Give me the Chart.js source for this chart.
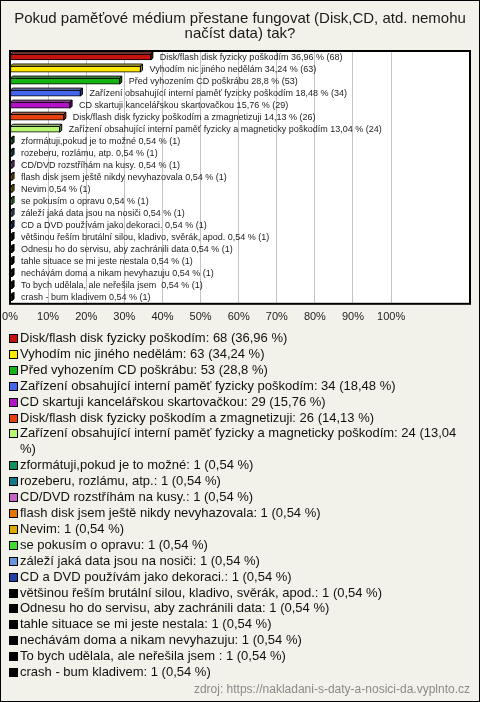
<!DOCTYPE html>
<html>
<head>
<meta charset="utf-8">
<script src="https://cdn.jsdelivr.net/npm/chart.js@4"></script>
<style>
  body { margin: 0; background: #fff; }
  #wrap { position: relative; width: 480px; height: 702px; box-sizing: border-box; border: 1px solid #000; background: #f3f2ea; overflow: hidden; }
  #box { position: absolute; left: 0; top: 0; width: 478px; height: 330px; }
  #legend { position: absolute; left: 8px; top: 329px; width: 462px; font: 13px "Liberation Sans", Arial, sans-serif; line-height: 15.9px; color: #111; }
  #legend div { position: relative; padding-left: 11px; }
  #legend span { position: absolute; left: 0; top: 4px; width: 7px; height: 7px; border: 1px solid #000; }
  #src { position: absolute; right: 9px; top: 681px; font: 12px "Liberation Sans", Arial, sans-serif; color: #8a8a8a; }
</style>
</head>
<body>
<div id="wrap">
  <div id="box"><canvas id="myChart"></canvas></div>
  <div id="legend"></div>
  <div id="src">zdroj: https://nakladani-s-daty-a-nosici-da.vyplnto.cz</div>
</div>
<script>
const titleLines = ['Pokud paměťové médium přestane fungovat (Disk,CD, atd. nemohu', 'načíst data) tak?'];
const categories = [
  'Disk/flash disk fyzicky poškodím',
  'Vyhodím nic jiného nedělám',
  'Před vyhozením CD poškrábu',
  'Zařízení obsahující interní paměť fyzicky poškodím',
  'CD skartuji kancelářskou skartovačkou',
  'Disk/flash disk fyzicky poškodím a zmagnetizuji',
  'Zařízení obsahující interní paměť fyzicky a magneticky poškodím',
  'zformátuji,pokud je to možné',
  'rozeberu, rozlámu, atp.',
  'CD/DVD rozstříhám na kusy.',
  'flash disk jsem ještě nikdy nevyhazovala',
  'Nevim',
  'se pokusím o opravu',
  'záleží jaká data jsou na nosiči',
  'CD a DVD používám jako dekoraci.',
  'většinou řeším brutální silou, kladivo, svěrák, apod.',
  'Odnesu ho do servisu, aby zachránili data',
  'tahle situace se mi jeste nestala',
  'nechávám doma a nikam nevyhazuju',
  'To bych udělala, ale neřešila jsem ',
  'crash - bum kladivem'
];
const counts = [68, 63, 53, 34, 29, 26, 24, 1, 1, 1, 1, 1, 1, 1, 1, 1, 1, 1, 1, 1, 1];
const percents = [36.96, 34.24, 28.8, 18.48, 15.76, 14.13, 13.04, 0.54, 0.54, 0.54, 0.54, 0.54, 0.54, 0.54, 0.54, 0.54, 0.54, 0.54, 0.54, 0.54, 0.54];
const colors = ['#c4120e', '#ffe800', '#14b414', '#4466ee', '#b412c8', '#e8400c', '#b8f870',
  '#10905a', '#107888', '#c864c8', '#e87400', '#dcaa00', '#40dc30', '#6894dc', '#2040a8',
  '#000000', '#000000', '#000000', '#000000', '#000000', '#000000'];
const xTicks = [0, 10, 20, 30, 40, 50, 60, 70, 80, 90, 100];

const fmt = v => String(v).replace('.', ',');

function shade(hex, amt){
  let r = parseInt(hex.substr(1,2),16), g = parseInt(hex.substr(3,2),16), b = parseInt(hex.substr(5,2),16);
  const t = amt > 0 ? 255 : 0, a = Math.abs(amt);
  r = Math.round(r + (t - r) * a); g = Math.round(g + (t - g) * a); b = Math.round(b + (t - b) * a);
  return `rgb(${r},${g},${b})`;
}

// white plot area + frame
const plotBox = {
  id: 'plotBox',
  beforeDraw(chart){
    const {ctx, chartArea: a} = chart;
    ctx.save();
    ctx.fillStyle = '#fff';
    ctx.fillRect(a.left, a.top, a.width, a.height);
    ctx.restore();
  },
  afterDraw(chart){
    const {ctx, chartArea: a} = chart;
    ctx.save();
    ctx.strokeStyle = '#000';
    ctx.lineWidth = 2;
    ctx.strokeRect(a.left, a.top, a.width, a.height);
    ctx.restore();
  }
};

// fake 3d faces and the text after each bar
const barExtras = {
  id: 'barExtras',
  afterDatasetsDraw(chart){
    const ctx = chart.ctx;
    const meta = chart.getDatasetMeta(0);
    const d = 2;
    ctx.save();
    ctx.lineWidth = 1;
    ctx.strokeStyle = '#000';
    meta.data.forEach((bar, i) => {
      const top = bar.y - bar.height / 2, bottom = bar.y + bar.height / 2;
      ctx.fillStyle = shade(colors[i], 0.35);
      ctx.beginPath();
      ctx.moveTo(bar.base, top);
      ctx.lineTo(bar.base + d, top - d);
      ctx.lineTo(bar.x + d, top - d);
      ctx.lineTo(bar.x, top);
      ctx.closePath();
      ctx.fill(); ctx.stroke();
      ctx.fillStyle = shade(colors[i], -0.35);
      ctx.beginPath();
      ctx.moveTo(bar.x, top);
      ctx.lineTo(bar.x + d, top - d);
      ctx.lineTo(bar.x + d, bottom - d);
      ctx.lineTo(bar.x, bottom);
      ctx.closePath();
      ctx.fill(); ctx.stroke();
    });
    ctx.font = '9px "Liberation Sans", Arial, sans-serif';
    ctx.fillStyle = '#222';
    ctx.textBaseline = 'middle';
    meta.data.forEach((bar, i) => {
      ctx.fillText(`${categories[i]} ${fmt(percents[i])} % (${counts[i]})`, bar.x + 9, bar.y);
    });
    ctx.restore();
  }
};

new Chart(document.getElementById('myChart').getContext('2d'), {
  type: 'bar',
  data: {
    labels: categories,
    datasets: [{
      data: percents,
      backgroundColor: colors,
      borderColor: '#000',
      borderWidth: 1,
      borderSkipped: false,
      barThickness: 6
    }]
  },
  options: {
    indexAxis: 'y',
    responsive: true,
    maintainAspectRatio: false,
    animation: false,
    layout: { padding: { left: 9, right: 9, bottom: 0 } },
    plugins: {
      legend: { display: false },
      tooltip: { enabled: false },
      title: {
        display: true,
        text: titleLines,
        color: '#1a1a1a',
        font: { family: '"Liberation Sans", Arial, sans-serif', size: 15, weight: 'normal', lineHeight: 1.0 },
        padding: { top: 10, bottom: 10 }
      }
    },
    scales: {
      x: {
        min: 0,
        max: 120.7,
        afterBuildTicks: axis => { axis.ticks = xTicks.map(v => ({ value: v })); },
        afterFit: axis => { axis.paddingLeft = 0; axis.paddingRight = 0; },
        ticks: {
          callback: v => v + '%',
          color: '#222',
          padding: 7,
          maxRotation: 0,
          autoSkip: false,
          font: { family: '"Liberation Sans", Arial, sans-serif', size: 11 }
        },
        grid: { color: '#c4c4c4', drawTicks: false },
        border: { display: false }
      },
      y: {
        display: false,
        grid: { display: false }
      }
    }
  },
  plugins: [plotBox, barExtras]
});

const legend = document.getElementById('legend');
categories.forEach((c, i) => {
  const row = document.createElement('div');
  const sq = document.createElement('span');
  sq.style.background = colors[i];
  row.appendChild(sq);
  row.appendChild(document.createTextNode(`${c}: ${counts[i]} (${fmt(percents[i])} %)`));
  legend.appendChild(row);
});
</script>
</body>
</html>
